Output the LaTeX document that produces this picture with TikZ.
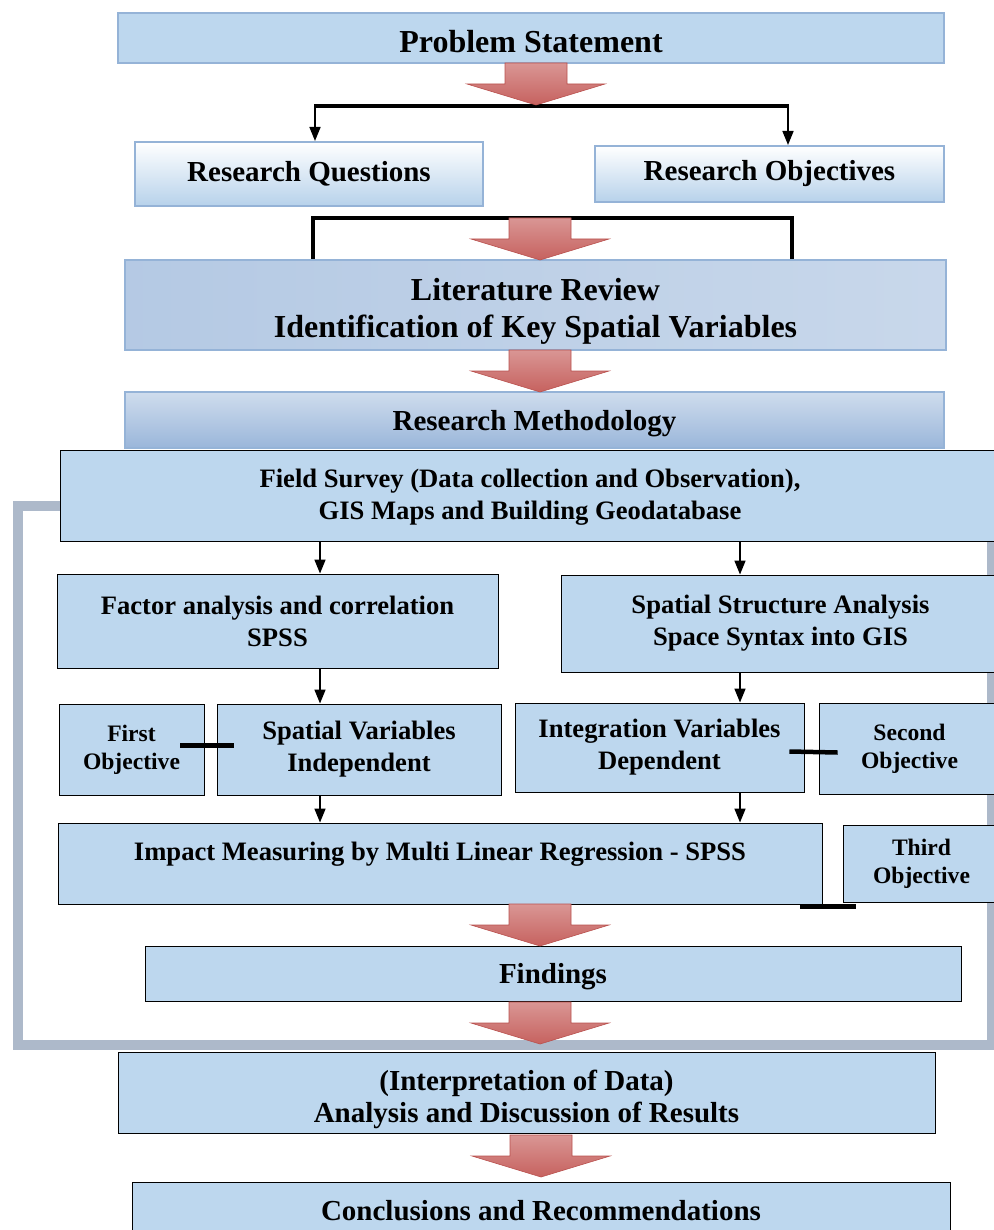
\documentclass[tikz,border=0pt]{standalone}
\usepackage{fontspec}
\setmainfont{Liberation Serif}
\usetikzlibrary{arrows.meta,backgrounds}

\definecolor{boxblue}{HTML}{BDD7EE}
\definecolor{boxedge}{HTML}{95B3D7}
\definecolor{gradlight}{HTML}{DCE6F2}
\definecolor{gradblue}{HTML}{9AB6DA}
\definecolor{framegray}{HTML}{ADB9CA}
\definecolor{arrowred}{HTML}{C0504D}
\definecolor{arrowline}{HTML}{B9514E}

\tikzset{
  fbig/.style={font=\fontsize{32}{36}\selectfont\bfseries},
  fmid/.style={font=\fontsize{29}{32}\selectfont\bfseries},
  fsmall/.style={font=\fontsize{26.6}{32}\selectfont\bfseries},
  fobj/.style={font=\fontsize{23.6}{28}\selectfont\bfseries},
  topbox/.style={draw=boxedge, line width=2pt, fill=boxblue, inner sep=0pt, align=center},
  gradbox/.style={topbox, top color=white, bottom color=boxblue!85!boxedge},
  stepbox/.style={draw=black, line width=0.9pt, fill=boxblue, inner sep=0pt, align=center},
  conn/.style={line width=1.6pt, -{Triangle[length=14pt,width=11pt]}},
  bar/.style={line width=4.5pt},
  frameline/.style={draw=framegray, line width=10pt},
  bigarrow/.pic={
    \shade[top color=arrowred!60!white, middle color=arrowred, bottom color=arrowred!90!white,
      draw=arrowline, line width=0.6pt]
      (-31,0) -- (31,0) -- (31,21) -- (69,21) -- (0,42) -- (-69,21) -- (-31,21) -- cycle;
  }
}

\begin{document}
\begin{tikzpicture}[x=1pt, y=-1pt]
  \useasboundingbox (0,0) rectangle (993,1230);

  % Top part
  \node[topbox, fbig, minimum width=826pt, minimum height=50pt, text height=30pt, text depth=0pt]
    (prob) at (531,38) {Problem Statement};
  \node[gradbox, fmid, minimum width=348pt, minimum height=64pt] (rq) at (309,174) {Research Questions};
  \node[gradbox, fmid, minimum width=349pt, minimum height=56pt] (ro) at (769.5,174) {Research Objectives};
  \node[topbox, fbig, left color=gradlight!40!gradblue, middle color=gradblue, right color=gradlight!70!gradblue,
    minimum width=821pt, minimum height=90pt, text height=64pt, text depth=0pt] (lit) at (535.5,305)
    {Literature Review\\Identification of Key Spatial Variables};
  \node[topbox, fmid, top color=gradlight!80!gradblue, bottom color=gradblue,
    minimum width=819pt, minimum height=56pt, text height=20pt, text depth=0pt] (meth) at (534.5,420)
    {Research Methodology};

  % Analysis steps
  \node[stepbox, fsmall, minimum width=940pt, minimum height=91pt, text height=47pt, text depth=0pt]
    (fs) at (530,495.5)
    {Field Survey (Data collection and Observation),\\GIS Maps and Building Geodatabase};
  \node[stepbox, fsmall, minimum width=441pt, minimum height=94pt] (fa) at (277.5,621)
    {Factor analysis and correlation\\SPSS};
  \node[stepbox, fsmall, minimum width=439pt, minimum height=97pt] (ss) at (780.5,623.5)
    {Spatial Structure Analysis\\Space Syntax into GIS};
  \node[stepbox, fobj, minimum width=145pt, minimum height=91pt] (fo) at (131.5,749.5) {First\\Objective};
  \node[stepbox, fsmall, minimum width=284pt, minimum height=91pt] (sv) at (359,749.5)
    {Spatial Variables\\Independent};
  \node[stepbox, fsmall, minimum width=289pt, minimum height=89pt] (iv) at (659.5,747.5)
    {Integration Variables\\Dependent};
  \node[stepbox, fobj, minimum width=181pt, minimum height=91pt] (so) at (909.5,748.5) {Second\\Objective};
  \node[stepbox, fsmall, minimum width=764pt, minimum height=81pt, text height=20pt, text depth=27pt]
    (im) at (440,863.5) {Impact Measuring by Multi Linear Regression - SPSS};
  \node[stepbox, fobj, minimum width=157pt, minimum height=77pt] (to) at (921.5,863.5) {Third\\Objective};
  \node[stepbox, fmid, minimum width=816pt, minimum height=55pt, text height=21pt, text depth=2pt]
    (fi) at (553,973.5) {Findings};

  % Bottom part
  \node[stepbox, fmid, minimum width=817pt, minimum height=81pt, text height=59pt, text depth=0pt]
    (ip) at (526.5,1092.5) {(Interpretation of Data)\\Analysis and Discussion of Results};
  \node[stepbox, fmid, minimum width=818pt, minimum height=56pt, text height=20pt, text depth=0pt]
    (cr) at (541,1210) {Conclusions and Recommendations};

  % Gray frame behind the analysis steps
  \begin{scope}[on background layer]
    \draw[frameline] (fs.west |- 0,506) -- (18,506) -- (18,1045) -- (992,1045) -- (992,0 |- fs.south);
  \end{scope}

  % Brackets
  \coordinate (b1l) at (315,106);
  \coordinate (b1r) at (788,106);
  \draw[bar] ([xshift=-1pt]b1l) -- ([xshift=1pt]b1r);
  \draw[conn] (b1l) -- (b1l |- rq.north);
  \draw[conn] (b1r) -- (b1r |- ro.north);
  \coordinate (b2l) at (313,218);
  \coordinate (b2r) at (792,218);
  \draw[bar] (b2l |- lit.north) -- (b2l) -- (b2r) -- (b2r |- lit.north);

  % Column arrows
  \coordinate (lcol) at (320,0);
  \coordinate (rcol) at (740,0);
  \draw[conn] (fs.south -| lcol) -- (fa.north -| lcol);
  \draw[conn] (fs.south -| rcol) -- (ss.north -| rcol);
  \draw[conn] (fa.south -| lcol) -- (sv.north -| lcol);
  \draw[conn] (ss.south -| rcol) -- (iv.north -| rcol);
  \draw[conn] (sv.south -| lcol) -- (im.north -| lcol);
  \draw[conn] (iv.south -| rcol) -- (im.north -| rcol);

  % Objective links
  \draw[bar] ([xshift=-24pt,yshift=4pt]fo.east) -- ([xshift=17pt,yshift=4pt]sv.west);
  \draw[bar] ([xshift=-15pt,yshift=-4pt]iv.east) -- ([xshift=19pt,yshift=-4pt]so.west);
  \draw[bar] ([xshift=-22pt,yshift=-2pt]im.south east) -- ++(56,0);

  % Red arrows
  \pic at (536,63) {bigarrow};
  \pic at (540,218) {bigarrow};
  \pic at (540,350) {bigarrow};
  \pic at (540,904) {bigarrow};
  \pic at (540,1002) {bigarrow};
  \pic at (541,1135) {bigarrow};
\end{tikzpicture}
\end{document}
